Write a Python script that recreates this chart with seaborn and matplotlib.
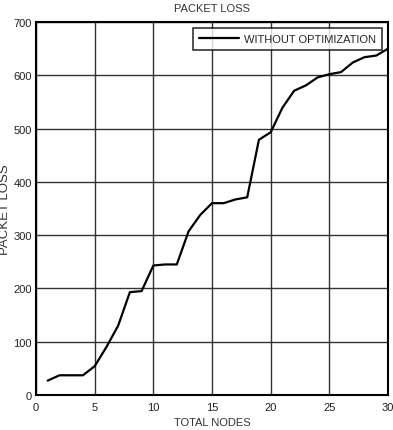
import matplotlib
matplotlib.use("Agg")
import matplotlib.pyplot as plt
import seaborn as sns
import pandas as pd

nodes = list(range(1, 31))
packet_loss = [27, 37, 37, 37, 54, 90, 130, 193, 195, 243,
               245, 245, 307, 338, 360, 360, 367, 371, 479, 493,
               539, 571, 581, 596, 602, 606, 624, 634, 637, 650]
series_name = "WITHOUT OPTIMIZATION"
x_ticks = [0, 5, 10, 15, 20, 25, 30]
y_ticks = [0, 100, 200, 300, 400, 500, 600, 700]

sns.set_theme(style="white")
plt.rcParams['font.family'] = ['Liberation Sans', 'DejaVu Sans']

df = pd.DataFrame({"nodes": nodes, "loss": packet_loss, "series": series_name})

fig = plt.figure(figsize=(3.93, 4.31), dpi=100)
ax = fig.add_axes([36/393, 1 - 396/431, (388-36)/393, (396-23)/431])

sns.lineplot(data=df, x="nodes", y="loss", hue="series", palette=["black"],
             linewidth=1.6, ax=ax)

ax.set_xlim(0, 30)
ax.set_ylim(0, 700)
ax.set_xticks(x_ticks)
ax.set_yticks(y_ticks)
ax.tick_params(axis='both', labelsize=8, length=0, colors='#222222')
ax.tick_params(axis='x', pad=5)
ax.tick_params(axis='y', pad=3)
ax.grid(True, color='#333333', linewidth=1.0)
for s in ax.spines.values():
    s.set_color('black')
    s.set_linewidth(1.5)

ax.set_title("PACKET LOSS", fontsize=8, color='#333333', pad=8)
ax.set_xlabel("TOTAL NODES", fontsize=8, color='#333333')
ax.set_ylabel("PACKET LOSS", fontsize=9.5, color='#333333')
ax.xaxis.set_label_coords(0.5, -0.058)
ax.yaxis.set_label_coords(-0.072, 0.5)

leg = ax.legend(loc='upper right', fontsize=8, frameon=True, fancybox=False,
                edgecolor='black', borderaxespad=0.55, handlelength=3.6,
                handletextpad=0.4, borderpad=0.55)
leg.get_frame().set_linewidth(1.2)

fig.savefig("out.png", dpi=100)
